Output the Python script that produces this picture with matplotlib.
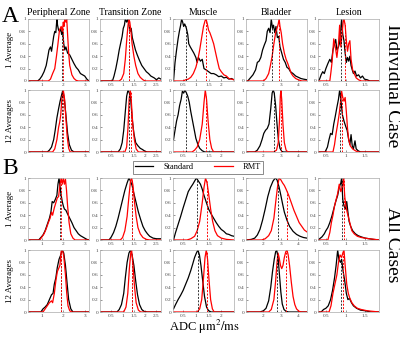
import numpy as np
import matplotlib
matplotlib.use("Agg")
import matplotlib.pyplot as plt
from matplotlib.lines import Line2D

# column titles, row labels and x axis settings
regions = ["Peripheral Zone", "Transition Zone", "Muscle", "Bladder", "Lesion"]
row_labels = ["1 Average", "12 Averages", "1 Average", "12 Averages"]
xlims = [(0.35, 3.2), (0.0, 2.7), (0.1, 2.5), (1.0, 4.5), (0.3, 1.85)]
xticks = [[1, 2, 3], [0.5, 1, 1.5, 2, 2.5], [0.5, 1, 1.5, 2], [2, 3, 4], [0.5, 1, 1.5]]

# normalised histograms (x, y), one list per row: 1 avg indiv, 12 avg indiv, 1 avg all, 12 avg all
pz_std = [
    [(0.4, 0), (0.8, 0), (0.9, 0.03), (1.0, 0.08), (1.1, 0.15), (1.2, 0.25), (1.27, 0.38), (1.33, 0.5),
     (1.4, 0.55), (1.45, 0.48), (1.5, 0.6), (1.55, 0.72), (1.6, 0.8), (1.65, 0.78), (1.7, 1.0), (1.73, 0.9),
     (1.78, 0.82), (1.83, 0.8), (1.88, 0.85), (1.92, 0.75), (1.97, 0.82), (2.02, 0.6), (2.07, 0.5),
     (2.12, 0.55), (2.2, 0.45), (2.3, 0.42), (2.4, 0.35), (2.5, 0.28), (2.6, 0.22), (2.7, 0.18),
     (2.8, 0.12), (2.9, 0.1), (3.0, 0.08), (3.1, 0.03), (3.2, 0.0)],
    [(0.4, 0), (1.25, 0), (1.35, 0.03), (1.45, 0.08), (1.55, 0.2), (1.62, 0.35), (1.7, 0.55), (1.78, 0.7),
     (1.85, 0.82), (1.92, 0.92), (1.98, 1.0), (2.05, 0.85), (2.12, 0.6), (2.2, 0.3), (2.28, 0.12),
     (2.38, 0.03), (2.5, 0), (3.2, 0)],
    [(0.4, 0), (0.85, 0), (0.95, 0.04), (1.05, 0.08), (1.15, 0.15), (1.25, 0.25), (1.35, 0.35), (1.42, 0.45),
     (1.48, 0.62), (1.55, 0.6), (1.62, 0.65), (1.7, 0.72), (1.75, 0.9), (1.8, 1.0), (1.85, 0.85),
     (1.9, 0.72), (1.95, 0.62), (2.0, 0.55), (2.05, 0.5), (2.12, 0.48), (2.2, 0.42), (2.3, 0.35),
     (2.4, 0.28), (2.5, 0.2), (2.6, 0.15), (2.7, 0.1), (2.8, 0.07), (2.9, 0.05), (3.0, 0.03), (3.1, 0.01),
     (3.2, 0)],
    [(0.4, 0), (0.95, 0), (1.05, 0.05), (1.15, 0.08), (1.25, 0.12), (1.35, 0.2), (1.45, 0.28),
     (1.52, 0.3), (1.58, 0.45), (1.65, 0.55), (1.72, 0.72), (1.8, 0.85), (1.88, 0.92), (1.95, 1.0),
     (2.02, 0.95), (2.1, 0.75), (2.18, 0.45), (2.25, 0.2), (2.35, 0.05), (2.45, 0), (3.2, 0)],
]
pz_rmt = [
    [(0.4, 0), (1.3, 0), (1.4, 0.03), (1.5, 0.12), (1.6, 0.2), (1.68, 0.4), (1.75, 0.6), (1.82, 0.82),
     (1.9, 0.88), (1.95, 0.8), (2.0, 0.95), (2.03, 0.88), (2.07, 1.0), (2.12, 0.95), (2.16, 1.0),
     (2.2, 0.75), (2.25, 0.45), (2.3, 0.25), (2.4, 0.1), (2.5, 0.04), (2.6, 0.01), (2.7, 0), (3.2, 0)],
    [(0.4, 0), (1.5, 0), (1.6, 0.05), (1.7, 0.2), (1.78, 0.4), (1.83, 0.48), (1.88, 0.6), (1.93, 0.85),
     (2.0, 1.0), (2.06, 0.85), (2.12, 0.55), (2.18, 0.25), (2.25, 0.06), (2.32, 0), (3.2, 0)],
    [(0.4, 0), (0.9, 0), (1.0, 0.05), (1.1, 0.1), (1.2, 0.18), (1.3, 0.28), (1.38, 0.35), (1.45, 0.45),
     (1.5, 0.4), (1.58, 0.52), (1.65, 0.6), (1.72, 0.68), (1.78, 0.7), (1.84, 0.88), (1.9, 1.0),
     (1.95, 0.9), (2.0, 1.0), (2.05, 0.9), (2.1, 0.98), (2.15, 0.8), (2.2, 0.55), (2.27, 0.28),
     (2.35, 0.1), (2.45, 0.03), (2.55, 0), (3.2, 0)],
    [(0.4, 0), (1.05, 0), (1.15, 0.05), (1.25, 0.1), (1.35, 0.15), (1.45, 0.18), (1.5, 0.15),
     (1.58, 0.3), (1.65, 0.5), (1.72, 0.65), (1.78, 0.7), (1.84, 0.75), (1.9, 0.98), (1.96, 1.0),
     (2.02, 0.9), (2.1, 0.6), (2.16, 0.3), (2.22, 0.1), (2.3, 0.02), (2.4, 0), (3.2, 0)],
]
tz_std = [
    [(0.0, 0), (0.55, 0), (0.62, 0.08), (0.7, 0.2), (0.78, 0.35), (0.85, 0.5), (0.92, 0.62), (0.98, 0.72),
     (1.03, 0.85), (1.08, 0.9), (1.12, 1.0), (1.18, 0.95), (1.23, 1.0), (1.28, 0.9), (1.33, 0.8),
     (1.38, 0.85), (1.43, 0.7), (1.5, 0.6), (1.57, 0.5), (1.65, 0.42), (1.75, 0.33), (1.85, 0.25),
     (1.95, 0.2), (2.05, 0.15), (2.15, 0.12), (2.25, 0.08), (2.4, 0.05), (2.5, 0.02), (2.6, 0.05),
     (2.7, 0.03)],
    [(0.0, 0), (0.8, 0), (0.9, 0.05), (0.98, 0.15), (1.05, 0.35), (1.12, 0.65), (1.18, 0.9),
     (1.24, 1.0), (1.3, 0.95), (1.36, 0.85), (1.42, 0.55), (1.5, 0.3), (1.58, 0.15), (1.68, 0.1),
     (1.78, 0.06), (1.88, 0.04), (2.0, 0.01), (2.1, 0), (2.7, 0)],
    [(0.0, 0), (0.4, 0), (0.5, 0.05), (0.6, 0.12), (0.7, 0.22), (0.8, 0.35), (0.9, 0.5), (1.0, 0.65),
     (1.1, 0.8), (1.2, 0.92), (1.28, 1.0), (1.35, 0.95), (1.42, 0.88), (1.5, 0.75), (1.6, 0.6),
     (1.7, 0.45), (1.8, 0.33), (1.9, 0.22), (2.0, 0.15), (2.1, 0.1), (2.2, 0.06), (2.35, 0.03),
     (2.5, 0.02), (2.7, 0.02)],
    [(0.0, 0), (0.75, 0), (0.85, 0.04), (0.95, 0.12), (1.05, 0.3), (1.12, 0.55), (1.2, 0.8),
     (1.28, 0.95), (1.35, 1.0), (1.42, 0.92), (1.5, 0.75), (1.58, 0.5), (1.66, 0.28), (1.75, 0.12),
     (1.85, 0.04), (1.95, 0.01), (2.1, 0), (2.7, 0)],
]
tz_rmt = [
    [(0.0, 0), (0.85, 0), (0.95, 0.03), (1.05, 0.12), (1.12, 0.35), (1.18, 0.65), (1.24, 0.9),
     (1.28, 1.0), (1.32, 0.95), (1.37, 0.8), (1.42, 0.6), (1.5, 0.4), (1.58, 0.25), (1.68, 0.12),
     (1.78, 0.06), (1.9, 0.02), (2.0, 0), (2.7, 0)],
    [(0.0, 0), (1.1, 0), (1.18, 0.08), (1.24, 0.4), (1.29, 0.85), (1.34, 1.0), (1.39, 0.8), (1.45, 0.45),
     (1.52, 0.2), (1.6, 0.05), (1.7, 0), (2.7, 0)],
    [(0.0, 0), (0.9, 0), (1.0, 0.04), (1.1, 0.15), (1.2, 0.38), (1.28, 0.7), (1.35, 0.95), (1.4, 1.0),
     (1.46, 0.88), (1.53, 0.6), (1.6, 0.38), (1.68, 0.2), (1.78, 0.1), (1.9, 0.04), (2.05, 0.01),
     (2.2, 0), (2.7, 0)],
    [(0.0, 0), (1.05, 0), (1.15, 0.08), (1.23, 0.3), (1.3, 0.7), (1.36, 0.95), (1.4, 1.0), (1.46, 0.75),
     (1.53, 0.4), (1.6, 0.15), (1.7, 0.03), (1.8, 0), (2.7, 0)],
]
mu_std = [
    [(0.12, 0), (0.18, 0.3), (0.24, 0.5), (0.3, 0.68), (0.35, 0.8), (0.4, 0.9), (0.44, 1.0), (0.48, 0.95),
     (0.52, 0.88), (0.56, 0.92), (0.62, 0.86), (0.68, 0.75), (0.72, 0.6), (0.78, 0.55), (0.85, 0.5),
     (0.92, 0.45), (1.0, 0.38), (1.05, 0.3), (1.1, 0.38), (1.18, 0.32), (1.25, 0.35), (1.32, 0.2),
     (1.4, 0.18), (1.5, 0.15), (1.6, 0.12), (1.7, 0.12), (1.8, 0.1), (1.9, 0.07), (2.0, 0.08),
     (2.1, 0.05), (2.2, 0.06), (2.3, 0.03), (2.4, 0.04), (2.5, 0.02)],
    [(0.12, 0.2), (0.18, 0.35), (0.24, 0.5), (0.3, 0.6), (0.36, 0.75), (0.42, 0.85), (0.47, 0.98),
     (0.52, 0.95), (0.57, 1.0), (0.63, 0.95), (0.68, 0.9), (0.74, 0.8), (0.8, 0.65), (0.87, 0.5),
     (0.94, 0.35), (1.0, 0.22), (1.08, 0.12), (1.15, 0.06), (1.25, 0.02), (1.35, 0), (2.5, 0)],
    [(0.12, 0), (0.2, 0.12), (0.3, 0.25), (0.4, 0.38), (0.5, 0.52), (0.6, 0.65), (0.7, 0.78),
     (0.8, 0.85), (0.88, 0.9), (0.95, 0.95), (1.02, 1.0), (1.1, 0.95), (1.18, 0.9), (1.25, 0.82),
     (1.32, 0.72), (1.4, 0.62), (1.5, 0.5), (1.6, 0.42), (1.7, 0.35), (1.8, 0.28), (1.9, 0.22),
     (2.0, 0.17), (2.1, 0.14), (2.2, 0.1), (2.3, 0.09), (2.4, 0.07), (2.5, 0.06)],
    [(0.12, 0.05), (0.2, 0.12), (0.3, 0.2), (0.4, 0.27), (0.5, 0.35), (0.6, 0.45), (0.7, 0.55),
     (0.8, 0.67), (0.88, 0.78), (0.95, 0.88), (1.02, 0.95), (1.08, 1.0), (1.14, 0.92), (1.2, 0.75),
     (1.27, 0.5), (1.34, 0.25), (1.42, 0.08), (1.5, 0.02), (1.6, 0), (2.5, 0)],
]
mu_rmt = [
    [(0.12, 0), (0.5, 0), (0.6, 0.02), (0.7, 0.03), (0.8, 0.06), (0.9, 0.12), (1.0, 0.22), (1.08, 0.35),
     (1.15, 0.5), (1.22, 0.68), (1.3, 0.88), (1.36, 0.97), (1.4, 1.0), (1.45, 0.92), (1.5, 0.82),
     (1.55, 0.78), (1.62, 0.7), (1.7, 0.6), (1.78, 0.45), (1.85, 0.32), (1.92, 0.2), (2.0, 0.15),
     (2.1, 0.1), (2.2, 0.08), (2.3, 0.04), (2.4, 0.03), (2.5, 0.02)],
    [(0.12, 0), (0.85, 0), (0.95, 0.03), (1.05, 0.08), (1.15, 0.2), (1.25, 0.45), (1.32, 0.8),
     (1.37, 1.0), (1.42, 0.85), (1.48, 0.5), (1.55, 0.2), (1.62, 0.06), (1.7, 0), (2.5, 0)],
    [(0.12, 0), (0.65, 0), (0.8, 0.02), (0.95, 0.06), (1.05, 0.15), (1.15, 0.3), (1.25, 0.6),
     (1.32, 0.85), (1.38, 1.0), (1.44, 0.92), (1.5, 0.75), (1.58, 0.5), (1.66, 0.3), (1.75, 0.15),
     (1.85, 0.07), (2.0, 0.03), (2.2, 0.01), (2.5, 0)],
    [(0.12, 0), (1.05, 0), (1.15, 0.05), (1.23, 0.2), (1.3, 0.55), (1.36, 0.88), (1.41, 1.0), (1.46, 0.85),
     (1.52, 0.5), (1.58, 0.2), (1.65, 0.05), (1.72, 0), (2.5, 0)],
]
bl_std = [
    [(1.0, 0), (1.1, 0), (1.25, 0.05), (1.4, 0.1), (1.55, 0.18), (1.65, 0.3), (1.75, 0.32), (1.85, 0.38),
     (1.95, 0.5), (2.05, 0.58), (2.15, 0.65), (2.22, 0.8), (2.3, 0.85), (2.38, 0.78), (2.45, 1.0),
     (2.52, 0.85), (2.58, 0.9), (2.65, 0.78), (2.72, 0.88), (2.8, 0.7), (2.88, 0.72), (2.95, 0.55),
     (3.05, 0.45), (3.15, 0.35), (3.25, 0.3), (3.35, 0.22), (3.45, 0.2), (3.55, 0.15), (3.7, 0.12),
     (3.85, 0.08), (4.0, 0.06), (4.15, 0.04), (4.3, 0.03), (4.5, 0.02)],
    [(1.0, 0), (1.5, 0), (1.65, 0.03), (1.8, 0.1), (1.92, 0.2), (2.02, 0.3), (2.12, 0.35), (2.22, 0.38),
     (2.32, 0.45), (2.42, 0.7), (2.5, 0.95), (2.56, 1.0), (2.62, 0.95), (2.7, 0.75), (2.78, 0.45),
     (2.86, 0.2), (2.95, 0.06), (3.05, 0.01), (3.15, 0), (4.5, 0)],
    [(1.0, 0), (1.3, 0.01), (1.5, 0.03), (1.65, 0.08), (1.8, 0.17), (1.95, 0.32), (2.1, 0.5), (2.25, 0.7),
     (2.4, 0.85), (2.55, 0.95), (2.68, 1.0), (2.78, 0.97), (2.9, 0.85), (3.0, 0.72), (3.1, 0.58),
     (3.2, 0.45), (3.35, 0.32), (3.5, 0.22), (3.7, 0.14), (3.9, 0.09), (4.1, 0.06), (4.3, 0.04),
     (4.5, 0.03)],
    [(1.0, 0), (1.8, 0), (2.0, 0.02), (2.15, 0.06), (2.3, 0.18), (2.42, 0.4), (2.52, 0.65), (2.62, 0.85),
     (2.7, 0.97), (2.76, 1.0), (2.84, 0.88), (2.92, 0.6), (3.0, 0.32), (3.08, 0.13), (3.18, 0.04),
     (3.3, 0.01), (3.45, 0), (4.5, 0)],
]
bl_rmt = [
    [(1.0, 0), (2.0, 0), (2.15, 0.04), (2.3, 0.12), (2.4, 0.25), (2.5, 0.4), (2.6, 0.6), (2.7, 0.78),
     (2.78, 0.85), (2.85, 0.92), (2.9, 1.0), (2.95, 0.88), (3.02, 0.78), (3.1, 0.6), (3.2, 0.45),
     (3.3, 0.35), (3.4, 0.28), (3.5, 0.2), (3.6, 0.12), (3.7, 0.08), (3.85, 0.04), (4.0, 0.02),
     (4.2, 0), (4.5, 0)],
    [(1.0, 0), (2.6, 0), (2.75, 0.03), (2.85, 0.15), (2.92, 0.5), (2.97, 0.9), (3.0, 1.0), (3.05, 0.85),
     (3.12, 0.45), (3.2, 0.15), (3.3, 0.03), (3.4, 0), (4.5, 0)],
    [(1.0, 0), (1.9, 0), (2.1, 0.02), (2.3, 0.07), (2.45, 0.15), (2.6, 0.35), (2.72, 0.65), (2.82, 0.88),
     (2.9, 1.0), (3.0, 0.97), (3.1, 0.92), (3.2, 0.88), (3.3, 0.82), (3.45, 0.72), (3.6, 0.6),
     (3.75, 0.48), (3.9, 0.38), (4.05, 0.28), (4.2, 0.22), (4.35, 0.16), (4.5, 0.13)],
    [(1.0, 0), (2.3, 0), (2.45, 0.04), (2.6, 0.2), (2.7, 0.5), (2.78, 0.8), (2.84, 0.95), (2.9, 0.88),
     (2.98, 0.75), (3.05, 0.7), (3.12, 0.75), (3.2, 0.88), (3.28, 0.97), (3.35, 1.0), (3.42, 0.92),
     (3.5, 0.75), (3.6, 0.48), (3.7, 0.25), (3.8, 0.12), (3.9, 0.05), (4.05, 0.01), (4.2, 0), (4.5, 0)],
]
le_std = [
    [(0.3, 0), (0.34, 0.03), (0.38, 0.1), (0.42, 0.15), (0.46, 0.12), (0.5, 0.2), (0.55, 0.28),
     (0.6, 0.35), (0.64, 0.3), (0.68, 0.5), (0.72, 0.6), (0.75, 0.67), (0.78, 0.5), (0.82, 0.55),
     (0.85, 0.62), (0.88, 0.85), (0.9, 1.0), (0.93, 0.75), (0.96, 0.65), (0.99, 0.45), (1.02, 0.3),
     (1.05, 0.38), (1.08, 0.32), (1.11, 0.4), (1.14, 0.25), (1.17, 0.18), (1.2, 0.12), (1.24, 0.16),
     (1.28, 0.08), (1.33, 0.1), (1.38, 0.05), (1.43, 0.08), (1.48, 0.03), (1.55, 0.02), (1.62, 0),
     (1.85, 0)],
    [(0.3, 0), (0.48, 0), (0.54, 0.08), (0.58, 0.2), (0.62, 0.3), (0.66, 0.28), (0.7, 0.45),
     (0.74, 0.58), (0.78, 0.72), (0.82, 0.85), (0.85, 1.0), (0.88, 0.85), (0.92, 0.6), (0.96, 0.5),
     (1.0, 0.42), (1.04, 0.35), (1.08, 0.2), (1.11, 0.12), (1.14, 0.28), (1.17, 0.1), (1.2, 0.05),
     (1.24, 0.18), (1.27, 0.05), (1.32, 0.02), (1.38, 0), (1.85, 0)],
    [(0.3, 0), (0.34, 0.02), (0.4, 0.05), (0.46, 0.1), (0.5, 0.15), (0.55, 0.2), (0.6, 0.28),
     (0.65, 0.38), (0.7, 0.5), (0.75, 0.62), (0.8, 0.72), (0.84, 0.85), (0.88, 0.92), (0.9, 1.0),
     (0.93, 0.65), (0.96, 0.55), (1.0, 0.5), (1.03, 0.62), (1.06, 0.45), (1.09, 0.3), (1.13, 0.22),
     (1.18, 0.15), (1.25, 0.1), (1.32, 0.07), (1.4, 0.05), (1.5, 0.03), (1.6, 0.02), (1.7, 0.01),
     (1.85, 0)],
    [(0.3, 0), (0.38, 0), (0.44, 0.04), (0.5, 0.06), (0.56, 0.1), (0.62, 0.2), (0.67, 0.35),
     (0.72, 0.55), (0.76, 0.75), (0.8, 1.0), (0.83, 0.85), (0.87, 0.8), (0.9, 0.85), (0.94, 0.65),
     (0.98, 0.5), (1.02, 0.3), (1.06, 0.2), (1.1, 0.22), (1.15, 0.15), (1.2, 0.1), (1.28, 0.06),
     (1.38, 0.03), (1.5, 0.02), (1.65, 0), (1.85, 0)],
]
le_rmt = [
    [(0.3, 0), (0.6, 0), (0.63, 0.15), (0.66, 0.32), (0.7, 0.68), (0.74, 0.55), (0.78, 0.38),
     (0.82, 0.6), (0.85, 0.9), (0.88, 0.55), (0.91, 0.75), (0.94, 0.95), (0.96, 1.0), (0.99, 0.9),
     (1.02, 0.65), (1.05, 0.48), (1.08, 0.6), (1.11, 0.65), (1.14, 0.35), (1.18, 0.18), (1.22, 0.12),
     (1.27, 0.05), (1.33, 0.02), (1.4, 0), (1.85, 0)],
    [(0.3, 0), (0.68, 0), (0.72, 0.12), (0.76, 0.3), (0.8, 0.45), (0.84, 0.62), (0.88, 0.85),
     (0.9, 0.98), (0.93, 0.88), (0.96, 0.82), (0.99, 0.88), (1.02, 0.65), (1.05, 0.38), (1.08, 0.2),
     (1.12, 0.1), (1.18, 0.05), (1.25, 0.02), (1.32, 0), (1.85, 0)],
    [(0.3, 0), (0.55, 0), (0.6, 0.12), (0.64, 0.28), (0.68, 0.4), (0.72, 0.55), (0.76, 0.65),
     (0.8, 0.75), (0.84, 0.9), (0.88, 0.78), (0.92, 0.85), (0.95, 1.0), (0.98, 0.7), (1.01, 0.55),
     (1.04, 0.45), (1.08, 0.35), (1.12, 0.25), (1.16, 0.15), (1.22, 0.1), (1.3, 0.06), (1.4, 0.04),
     (1.5, 0.03), (1.6, 0.02), (1.75, 0.01), (1.85, 0)],
    [(0.3, 0), (0.58, 0), (0.63, 0.1), (0.68, 0.3), (0.73, 0.45), (0.78, 0.6), (0.82, 0.8),
     (0.86, 0.92), (0.9, 0.88), (0.93, 0.95), (0.96, 1.0), (0.99, 0.75), (1.03, 0.45), (1.07, 0.3),
     (1.11, 0.22), (1.16, 0.15), (1.22, 0.1), (1.3, 0.06), (1.4, 0.04), (1.55, 0.02), (1.7, 0.01),
     (1.85, 0)],
]

std_curves = [pz_std, tz_std, mu_std, bl_std, le_std]
rmt_curves = [pz_rmt, tz_rmt, mu_rmt, bl_rmt, le_rmt]

# mean ADC per region (columns) and row
std_mean = [[1.93, 1.3, 0.6, 2.5, 0.88],
            [1.95, 1.3, 0.6, 2.58, 0.85],
            [1.85, 1.4, 1.05, 2.85, 0.9],
            [1.88, 1.4, 1.08, 2.78, 0.88]]
rmt_mean = [[1.99, 1.3, 1.4, 2.9, 0.98],
            [2.0, 1.35, 1.4, 3.0, 0.92],
            [1.88, 1.42, 1.42, 3.35, 0.95],
            [1.9, 1.42, 1.42, 3.3, 0.93]]

plt.rcParams['font.family'] = ['Liberation Serif', 'DejaVu Serif']
plt.rcParams['mathtext.fontset'] = 'stix'

fig = plt.figure(figsize=(4.0, 3.38), dpi=100)
W, H = 400, 338
col_left = [28, 100, 173, 246, 318]
row_top = [19, 90, 178, 250]
aw, ah = 61, 62

for r in range(4):
    for c in range(5):
        ax = fig.add_axes([col_left[c] / W, 1 - (row_top[r] + ah) / H, aw / W, ah / H])
        sx, sy = zip(*std_curves[c][r])
        rx, ry = zip(*rmt_curves[c][r])
        ax.plot(sx, sy, color='black', lw=0.9)
        ax.plot(rx, ry, color='red', lw=0.9)
        hs = np.interp(std_mean[r][c], sx, sy)
        hr = np.interp(rmt_mean[r][c], rx, ry)
        ax.vlines(std_mean[r][c], 0, hs, colors='black', linestyles=(0, (2, 1.5)), lw=0.7, alpha=0.8)
        ax.vlines(rmt_mean[r][c], 0, hr, colors='red', linestyles=(0, (2, 1.5)), lw=0.7)
        ax.set_xlim(xlims[c])
        ax.set_ylim(0, 1)
        ax.set_xticks(xticks[c])
        ax.set_xticklabels([f"{t:g}" for t in xticks[c]])
        ax.set_yticks([0, 0.2, 0.4, 0.6, 0.8, 1])
        ax.set_yticklabels(["0", "0.2", "0.4", "0.6", "0.8", "1"])
        ax.tick_params(labelsize=3.8, length=1.5, width=0.4, direction='in', pad=1.5,
                       colors='#444444')
        for s in ax.spines.values():
            s.set_linewidth(0.5)
            s.set_color('#aaaaaa')
        if r == 0:
            ax.set_title(regions[c], fontsize=7, pad=3)
        if c == 0:
            ax.set_ylabel(row_labels[r], fontsize=6.5, labelpad=4)

fig.text(10 / W, 1 - 17 / H, "A", fontsize=17, ha='center', va='center')
fig.text(10 / W, 1 - 168 / H, "B", fontsize=17, ha='center', va='center')
fig.text(392 / W, 1 - 86 / H, "Individual Case", fontsize=14, rotation=270, ha='center', va='center')
fig.text(392 / W, 1 - 245 / H, "All Cases", fontsize=14, rotation=270, ha='center', va='center')
fig.text(204 / W, 1 - 327 / H, r"ADC $\mathrm{\mu m^2/ms}$", fontsize=9, ha='center', va='center')

handles = [Line2D([], [], color='black', lw=0.9), Line2D([], [], color='red', lw=0.9)]
leg = fig.legend(handles, ["Standard", "RMT"], loc='center', bbox_to_anchor=(198 / W, 1 - 167 / H),
                 ncol=2, fontsize=6, frameon=True, fancybox=False, edgecolor='#555555',
                 handlelength=2.2, handletextpad=1.2, columnspacing=2.5, borderpad=0.3)
leg.get_frame().set_linewidth(0.6)

fig.savefig("out.png", dpi=100)
